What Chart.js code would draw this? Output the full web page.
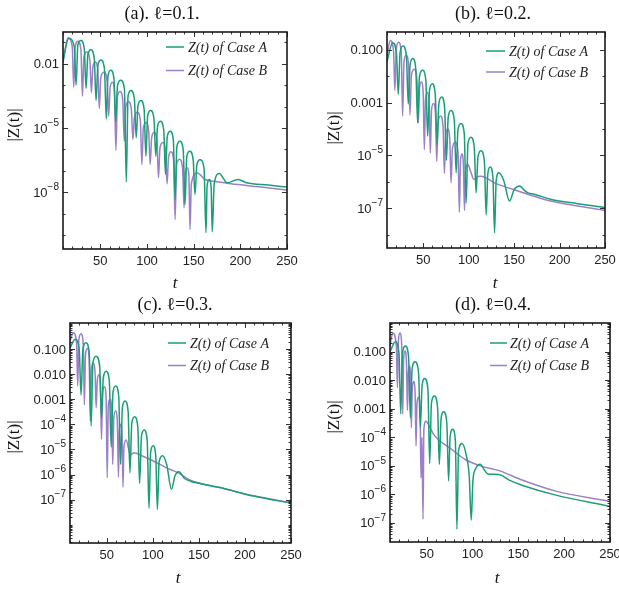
<!DOCTYPE html>
<html>
<head>
<meta charset="utf-8">
<script src="https://cdn.jsdelivr.net/npm/chart.js@4.4.1/dist/chart.umd.min.js"></script>
<style>
  html, body { margin: 0; padding: 0; background: #fff; overflow: hidden; }
  #page { position: relative; width: 619px; height: 591px; overflow: hidden; }
  .panel { position: absolute; }
</style>
</head>
<body>
<div id="page">
  <div class="panel" style="left:0;top:0"><canvas id="chartA" width="310" height="295"></canvas></div>
  <div class="panel" style="left:310px;top:0"><canvas id="chartB" width="309" height="295"></canvas></div>
  <div class="panel" style="left:0;top:295px"><canvas id="chartC" width="310" height="296"></canvas></div>
  <div class="panel" style="left:310px;top:295px"><canvas id="chartD" width="320" height="296"></canvas></div>
</div>
<script>
// ---- data: [t, |Z(t)|] ----
const caseA_a = [[10,1.41e-2],[16.2,1.51e-1],[22.1,6.03e-2],[24.0,1.0e-3],
  [25.9,7.41e-2],[29.2,1.20e-1],[32.8,5.01e-2],[34.7,7.08e-4],
  [36.6,2.51e-2],[39.8,4.47e-2],[43.5,1.78e-2],[45.4,1.95e-4],
  [47.4,8.32e-3],[50.6,1.48e-2],[54.4,5.89e-3],[56.4,2.69e-5],
  [58.2,2.75e-3],[61.2,4.90e-3],[64.6,1.95e-3],[66.4,1.95e-5],
  [68.4,9.55e-4],[71.8,1.70e-3],[75.8,6.76e-4],[77.8,3.09e-8],
  [79.7,3.16e-4],[82.8,5.62e-4],[86.5,2.24e-4],[88.4,3.55e-6],
  [90.3,1.07e-4],[93.4,1.91e-4],[96.9,7.59e-5],[98.8,4.90e-7],
  [100.7,3.72e-5],[103.9,6.61e-5],[107.5,2.63e-5],[109.4,4.90e-7],
  [111.3,1.17e-5],[114.4,2.09e-5],[117.9,8.32e-6],[119.8,6.92e-8],
  [121.7,3.98e-6],[124.8,7.08e-6],[128.2,2.82e-6],[130.1,4.68e-9],
  [132.0,1.35e-6],[135.2,2.40e-6],[138.8,9.55e-7],[140.7,2.75e-9],
  [142.6,4.68e-7],[145.8,8.32e-7],[149.5,3.31e-7],[151.4,7.94e-9],
  [153.4,1.86e-7],[156.8,3.31e-7],[161.1,1.32e-7],[163.2,1.32e-10],
  [164.4,2.0e-8],[166.6,3.98e-8],[168.7,1.78e-8],[169.9,1.45e-10],
  [172,2.51e-8],[177.4,7.59e-8],[185.9,2.82e-8],[197.7,3.98e-8],[206.6,2.82e-8],[230,2.19e-8],[250,1.78e-8]];

const caseB_a = [[10,1.12e-2],[15.3,1.62e-1],[19.9,6.31e-2],[21.5,8.13e-4],
  [23.1,6.31e-2],[26.0,1.12e-1],[29.2,4.47e-2],[30.8,3.09e-4],
  [32.4,2.0e-2],[35.5,3.55e-2],[38.8,1.41e-2],[40.4,4.47e-4],
  [42.0,6.76e-3],[44.6,1.20e-2],[47.3,4.79e-3],[48.9,8.32e-5],
  [50.5,2.24e-3],[53.9,3.98e-3],[57.3,1.58e-3],[58.9,3.63e-5],
  [60.5,7.76e-4],[62.8,1.38e-3],[65.1,5.50e-4],[66.7,9.33e-7],
  [68.3,2.82e-4],[71.2,5.01e-4],[74.0,2.0e-4],[75.6,2.45e-6],
  [77.2,9.77e-5],[80.2,1.74e-4],[83.3,6.92e-5],[84.9,2.95e-6],
  [86.5,3.09e-5],[89.7,5.50e-5],[92.9,2.19e-5],[94.5,2.0e-7],
  [96.1,1.02e-5],[99.0,1.82e-5],[101.8,7.24e-6],[103.4,2.0e-7],
  [105.0,3.55e-6],[107.8,6.31e-6],[110.7,2.51e-6],[112.3,4.79e-8],
  [113.9,1.20e-6],[116.9,2.14e-6],[119.9,8.51e-7],[121.5,2.51e-8],
  [123.1,4.47e-7],[125.8,7.94e-7],[128.5,3.16e-7],[130.1,5.50e-10],
  [131.7,1.95e-7],[134.9,3.47e-7],[138.1,1.38e-7],[139.7,1.91e-9],
  [140.9,7.94e-8],[143.0,1.41e-7],[144.9,5.62e-8],[146.1,1.86e-10],
  [147.5,2.51e-8],[153.9,8.13e-8],[162.1,3.98e-8],[175,3.16e-8],[190,2.51e-8],[220,1.82e-8],[250,1.29e-8]];

const caseA_b = [[10,3.55e-2],[16.2,1.86e-1],[20.4,7.41e-2],[22.4,2.04e-3],
  [24.4,7.76e-2],[27.6,1.38e-1],[31.4,5.50e-2],[33.4,8.91e-4],
  [35.4,2.63e-2],[38.4,4.68e-2],[41.7,1.86e-2],[43.7,1.70e-4],
  [45.7,9.33e-3],[49.3,1.66e-2],[52.8,6.61e-3],[54.8,5.37e-5],
  [56.8,2.88e-3],[59.8,5.13e-3],[63.1,2.04e-3],[65.1,2.45e-5],
  [67.1,9.12e-4],[70.2,1.62e-3],[73.4,6.46e-4],[75.4,6.46e-6],
  [77.4,2.82e-4],[80.6,5.01e-4],[84.1,2.0e-4],[86.1,2.19e-6],
  [88.1,9.12e-5],[91.4,1.62e-4],[95.1,6.46e-5],[97.1,1.58e-7],
  [99.1,2.75e-5],[102.4,4.90e-5],[106.1,1.95e-5],[108.1,3.80e-7],
  [110.1,8.51e-6],[113.4,1.51e-5],[117.2,6.03e-6],[119.2,5.50e-8],
  [121.0,2.04e-6],[123.6,3.63e-6],[126.6,1.45e-6],[128.4,1.17e-8],
  [130.2,1.12e-6],[133.1,2.19e-6],[138.5,1.12e-6],[144.9,1.86e-7],[150,5.01e-7],[156,6.92e-7],
  [160.5,5.01e-7],[165.2,3.80e-7],[172,3.39e-7],[190.9,2.14e-7],[220,1.48e-7],[250,1.05e-7]];

const caseB_b = [[10,6.31e-2],[13.6,2.24e-1],[17.2,8.91e-2],[18.7,2.88e-3],
  [20.2,1.07e-1],[22.9,1.91e-1],[25.7,7.59e-2],[27.2,3.09e-4],
  [28.7,3.47e-2],[31.2,6.17e-2],[33.8,2.45e-2],[35.3,3.39e-4],
  [36.8,1.02e-2],[39.9,1.82e-2],[43.0,7.24e-3],[44.5,1.70e-4],
  [45.8,3.39e-3],[47.8,6.03e-3],[49.8,2.40e-3],[51.1,1.66e-5],
  [52.4,1.35e-3],[54.4,2.40e-3],[56.4,9.55e-4],[57.7,1.23e-5],
  [59.0,5.13e-4],[61.2,9.12e-4],[63.4,3.63e-4],[64.7,6.03e-6],
  [66.2,1.74e-4],[68.9,3.09e-4],[71.7,1.23e-4],[73.2,2.09e-6],
  [74.6,5.75e-5],[76.8,1.02e-4],[79.1,4.07e-5],[80.5,9.12e-7],
  [82.0,1.78e-5],[85.1,3.16e-5],[88.2,1.26e-5],[89.7,7.08e-8],
  [90.9,6.31e-6],[92.5,1.12e-5],[94.1,4.47e-6],[95.3,8.13e-8],
  [96.5,2.51e-6],[98.9,4.57e-6],[102,2.51e-6],[105.6,1.23e-6],[109.5,1.58e-6],[113.6,1.62e-6],
  [128.4,9.12e-7],[154.1,4.47e-7],[190,1.86e-7],[220,1.20e-7],[250,8.13e-8]];

const caseA_c = [[10,1.12e-1],[15.8,2.45e-1],[20.0,9.77e-2],[22.0,1.48e-3],
  [24.0,1.0e-1],[27.3,1.78e-1],[30.9,7.08e-2],[32.9,8.51e-5],
  [34.9,2.95e-2],[38.3,5.25e-2],[42.2,2.09e-2],[44.2,1.82e-4],
  [46.2,7.41e-3],[49.3,1.32e-2],[52.7,5.25e-3],[54.7,1.26e-5],
  [56.7,1.91e-3],[59.6,3.39e-3],[62.9,1.35e-3],[64.9,2.57e-6],
  [66.9,4.79e-4],[69.8,8.51e-4],[73.1,3.39e-4],[75.1,1.17e-6],
  [77.1,1.12e-4],[80.2,2.0e-4],[83.6,7.94e-5],[85.6,4.47e-7],
  [87.6,3.31e-5],[90.5,5.89e-5],[93.8,2.34e-5],[95.8,4.47e-8],
  [97.6,7.94e-6],[100.3,1.41e-5],[103.1,5.62e-6],[104.9,4.07e-8],
  [106.8,3.16e-6],[110.5,5.62e-6],[115,2.51e-6],[120.2,2.57e-7],[124,8.91e-7],[128.5,1.29e-6],
  [134,7.08e-7],[140.2,5.50e-7],[150,4.47e-7],[172.9,3.02e-7],[209.3,1.38e-7],[250,7.24e-8]];

const caseB_c = [[10,2.09e-1],[13.6,4.47e-1],[17.1,1.78e-1],[18.4,3.39e-3],
  [19.6,2.29e-1],[21.9,4.07e-1],[24.4,1.62e-1],[25.6,5.89e-4],
  [26.8,5.89e-2],[28.8,1.05e-1],[30.8,4.17e-2],[32.0,1.35e-4],
  [33.2,1.58e-2],[35.2,2.82e-2],[37.2,1.12e-2],[38.4,4.57e-4],
  [39.6,5.37e-3],[41.3,9.55e-3],[43.0,3.80e-3],[44.2,2.51e-5],
  [45.4,1.78e-3],[47.3,3.16e-3],[49.2,1.26e-3],[50.4,7.41e-7],
  [51.6,5.62e-4],[53.4,1.0e-3],[55.2,3.98e-4],[56.4,2.51e-6],
  [57.6,1.91e-4],[59.5,3.39e-4],[61.4,1.35e-4],[62.6,7.94e-7],
  [63.6,5.62e-5],[65.0,1.0e-4],[66.5,3.98e-5],[67.5,3.16e-7],
  [68.6,1.26e-5],[71,2.40e-5],[75.5,6.03e-6],[79.5,7.41e-6],[88.5,5.50e-6],[100,3.55e-6],
  [118.4,1.62e-6],[128.5,1.12e-6],[140,6.03e-7],[172.9,3.02e-7],[209.3,1.41e-7],[250,7.59e-8]];

const caseA_d = [[10,1.0e-1],[15.9,2.19e-1],[19.8,8.71e-2],[21.7,6.61e-4],
  [23.6,8.71e-2],[26.8,1.55e-1],[30.3,6.17e-2],[32.2,4.79e-4],
  [34.1,2.45e-2],[37.4,4.37e-2],[41.2,1.74e-2],[43.1,2.14e-4],
  [45.0,6.46e-3],[47.9,1.15e-2],[51.4,4.57e-3],[53.3,1.20e-5],
  [55.2,1.55e-3],[58.4,2.75e-3],[61.9,1.10e-3],[63.8,1.12e-5],
  [65.7,4.37e-4],[68.6,7.76e-4],[72.0,3.09e-4],[73.9,2.95e-6],
  [75.6,1.07e-4],[78.4,1.91e-4],[81.3,7.59e-5],[83.0,6.03e-8],
  [84.8,3.39e-5],[88.4,6.03e-5],[93,2.51e-5],[96.5,3.98e-6],[98.6,1.26e-7],[100.5,3.16e-6],
  [103.5,7.94e-6],[108.3,1.12e-5],[113,7.08e-6],[116.3,5.25e-6],[122,5.01e-6],[129,4.90e-6],
  [140,3.16e-6],[154,2.09e-6],[190,9.55e-7],[250,3.80e-7]];

const caseB_d = [[10,1.58e-1],[13.0,4.47e-1],[16.9,1.58e-1],[18.1,5.37e-3],
  [19.2,2.51e-1],[20.8,4.47e-1],[22.8,1.58e-1],[23.9,6.31e-4],
  [24.9,5.89e-2],[26.4,1.05e-1],[28.0,3.98e-2],[29.0,8.71e-4],
  [30.0,1.78e-2],[31.2,3.16e-2],[32.3,1.26e-2],[33.3,2.14e-4],
  [34.3,5.01e-3],[35.8,8.91e-3],[37.4,3.55e-3],[38.4,4.90e-5],
  [39.4,1.41e-3],[40.9,2.51e-3],[42.8,1.0e-3],[43.8,3.80e-6],
  [44.9,1.0e-4],[46.0,1.35e-7],[47.0,2.0e-4],[49.3,3.63e-4],[53,2.40e-4],[57.6,1.26e-4],
  [77.5,3.72e-5],[92,1.66e-5],[110,9.55e-6],[129,6.76e-6],[154,3.16e-6],[190,1.32e-6],[250,5.62e-7]];

// ---- axes ----
const tMin = 10, tMax = 250;
const xMajor = [50, 100, 150, 200, 250];
const xMinor = [10, 20, 30, 40, 60, 70, 80, 90, 110, 120, 130, 140, 160, 170, 180, 190, 210, 220, 230, 240];

// tick labels: plain text, or [base, exponent] for powers of ten
const yTicks_a = [1e-2, 1e-5, 1e-8];
const yLabels_a = ['0.01', ['10', '−5'], ['10', '−8']];
const yTicks_b = [1e-1, 1e-3, 1e-5, 1e-7];
const yLabels_b = ['0.100', '0.001', ['10', '−5'], ['10', '−7']];
const yTicks_cd = [1e-1, 1e-2, 1e-3, 1e-4, 1e-5, 1e-6, 1e-7];
const yLabels_cd = ['0.100', '0.010', '0.001', ['10', '−4'], ['10', '−5'], ['10', '−6'], ['10', '−7']];

const titles = ['(a). ℓ=0.1.', '(b). ℓ=0.2.', '(c). ℓ=0.3.', '(d). ℓ=0.4.'];
const seriesNames = ['Z(t) of Case A', 'Z(t) of Case B'];

const green = '#1b9e77';
const purple = '#9b80c9';
const tickFont = "13px 'Liberation Sans', Arial, sans-serif";
const expFont = "10px 'Liberation Sans', Arial, sans-serif";

Chart.defaults.font.family = "'Liberation Sans', Arial, sans-serif";
Chart.defaults.font.size = 13;
Chart.defaults.color = '#222';

// decade marks (and sub-decade marks for c, d) used for the frame ticks
function decadeMarks(lo, hi, sub) {
  const out = [];
  for (let n = lo; n <= hi; n++) {
    if (sub) { for (let k = 1; k < 10; k++) out.push(k * Math.pow(10, n)); }
    else out.push(Math.pow(10, n));
  }
  return out;
}

const frameDecor = {
  id: 'frameDecor',
  afterDraw(chart, args, o) {
    const { ctx, chartArea: ca } = chart;
    const xs = chart.scales.x, ys = chart.scales.y;
    ctx.save();
    // inward ticks on all four sides
    ctx.strokeStyle = '#333';
    ctx.lineWidth = 1;
    ctx.beginPath();
    const xt = (v, len) => {
      const p = Math.round(xs.getPixelForValue(v)) + 0.5;
      ctx.moveTo(p, ca.bottom); ctx.lineTo(p, ca.bottom - len);
      ctx.moveTo(p, ca.top); ctx.lineTo(p, ca.top + len);
    };
    const yt = (v, len) => {
      if (v < ys.min || v > ys.max) return;
      const p = Math.round(ys.getPixelForValue(v)) + 0.5;
      ctx.moveTo(ca.left, p); ctx.lineTo(ca.left + len, p);
      ctx.moveTo(ca.right, p); ctx.lineTo(ca.right - len, p);
    };
    xMinor.forEach(v => xt(v, 2.5));
    xMajor.forEach(v => xt(v, 5));
    o.yMinor.forEach(v => yt(v, 2.5));
    o.yMajor.forEach(v => yt(v, 5));
    ctx.stroke();
    // frame
    ctx.lineWidth = 1.6;
    ctx.strokeStyle = '#1a1a1a';
    ctx.strokeRect(ca.left, ca.top, ca.right - ca.left, ca.bottom - ca.top);

    // y tick labels (with raised exponents)
    ctx.fillStyle = '#222';
    ctx.textBaseline = 'middle';
    ctx.textAlign = 'right';
    const lx = ca.left - 4;
    o.yMajor.forEach((v, i) => {
      const py = ys.getPixelForValue(v);
      const lab = o.yLabels[i];
      if (Array.isArray(lab)) {
        ctx.font = expFont;
        const ew = ctx.measureText(lab[1]).width;
        ctx.fillText(lab[1], lx, py - 5);
        ctx.font = tickFont;
        ctx.fillText(lab[0], lx - ew, py + 1);
      } else {
        ctx.font = tickFont;
        ctx.fillText(lab, lx, py + 1);
      }
    });

    // title
    ctx.fillStyle = '#111';
    ctx.textAlign = 'center';
    ctx.font = "18px 'Liberation Serif', 'Times New Roman', serif";
    ctx.fillText(o.title, o.titleX, o.titleY);
    // axis titles
    ctx.font = "italic 17px 'Liberation Serif', 'Times New Roman', serif";
    ctx.fillText('t', o.tX, o.tY);
    ctx.save();
    ctx.translate(o.zX, o.zY);
    ctx.rotate(-Math.PI / 2);
    ctx.font = "17px 'Liberation Serif', 'Times New Roman', serif";
    ctx.fillText('|Z(t)|', 0, 0);
    ctx.restore();
    // legend inside the frame
    ctx.font = "italic 14px 'Liberation Serif', 'Times New Roman', serif";
    ctx.textAlign = 'left';
    chart.data.datasets.forEach((ds, i) => {
      const ly = o.legY[i];
      ctx.strokeStyle = ds.borderColor;
      ctx.lineWidth = 1.5;
      ctx.beginPath();
      ctx.moveTo(o.legX0, ly);
      ctx.lineTo(o.legX1, ly);
      ctx.stroke();
      ctx.fillStyle = '#222';
      ctx.fillText(ds.label, o.legTextX, ly + 1);
    });
    ctx.restore();
  }
};

function buildChart(id, cfg) {
  const toPts = arr => arr.map(p => ({ x: p[0], y: p[1] }));
  return new Chart(document.getElementById(id), {
    type: 'line',
    data: {
      datasets: [
        { label: seriesNames[0], data: toPts(cfg.a), borderColor: green, order: 0 },
        { label: seriesNames[1], data: toPts(cfg.b), borderColor: purple, order: 1 }
      ]
    },
    options: {
      responsive: false,
      animation: false,
      events: [],
      layout: { padding: { left: 0, top: cfg.box.top, right: cfg.box.right, bottom: 0 } },
      elements: {
        point: { radius: 0 },
        line: { borderWidth: 1.5, cubicInterpolationMode: 'monotone', fill: false }
      },
      plugins: {
        legend: { display: false },
        tooltip: { enabled: false },
        frameDecor: cfg.decor
      },
      scales: {
        x: {
          type: 'linear', min: tMin, max: tMax,
          grid: { display: false, drawTicks: false },
          border: { display: false },
          ticks: { padding: 5, maxRotation: 0, autoSkip: false, color: '#222' },
          afterBuildTicks: s => { s.ticks = xMajor.map(v => ({ value: v })); },
          afterFit: s => { s.height = cfg.box.xh; s.paddingLeft = 0; s.paddingRight = 0; }
        },
        y: {
          type: 'logarithmic', min: cfg.yMin, max: cfg.yMax,
          grid: { display: false, drawTicks: false },
          border: { display: false },
          ticks: { display: false },
          afterBuildTicks: s => { s.ticks = cfg.decor.yMajor.map(v => ({ value: v })); },
          afterFit: s => { s.width = cfg.box.yw; s.paddingTop = 0; s.paddingBottom = 0; }
        }
      }
    },
    plugins: [frameDecor]
  });
}

buildChart('chartA', {
  a: caseA_a, b: caseB_a, yMin: 2.3e-11, yMax: 3.0e-1,
  box: { top: 32, right: 23, xh: 46, yw: 63 },
  decor: { title: titles[0], titleX: 162, titleY: 14, tX: 175, tY: 284, zX: 15, zY: 125,
           yMajor: yTicks_a, yLabels: yLabels_a, yMinor: decadeMarks(-10, -1, false),
           legX0: 166, legX1: 184, legTextX: 188, legY: [47, 70.5] }
});

buildChart('chartB', {
  a: caseA_b, b: caseB_b, yMin: 3.1e-9, yMax: 4.7e-1,
  box: { top: 32, right: 14, xh: 47, yw: 77 },
  decor: { title: titles[1], titleX: 183, titleY: 14, tX: 185, tY: 284, zX: 25, zY: 128,
           yMajor: yTicks_b, yLabels: yLabels_b, yMinor: decadeMarks(-8, -1, false),
           legX0: 176, legX1: 195, legTextX: 199, legY: [51, 72] }
});

buildChart('chartC', {
  a: caseA_c, b: caseB_c, yMin: 1.86e-9, yMax: 1.1,
  box: { top: 28, right: 19, xh: 48, yw: 70 },
  decor: { title: titles[2], titleX: 175, titleY: 10, tX: 178, tY: 284, zX: 15, zY: 142,
           yMajor: yTicks_cd, yLabels: yLabels_cd, yMinor: decadeMarks(-9, 0, true),
           legX0: 168, legX1: 186, legTextX: 190, legY: [48, 70.5] }
});

buildChart('chartD', {
  a: caseA_d, b: caseB_d, yMin: 2.14e-8, yMax: 1.0,
  box: { top: 28, right: 20, xh: 49, yw: 80 },
  decor: { title: titles[3], titleX: 183, titleY: 10, tX: 187, tY: 284, zX: 25, zY: 122,
           yMajor: yTicks_cd, yLabels: yLabels_cd, yMinor: decadeMarks(-8, 0, true),
           legX0: 180, legX1: 197, legTextX: 200, legY: [48, 70.5] }
});
</script>
</body>
</html>
